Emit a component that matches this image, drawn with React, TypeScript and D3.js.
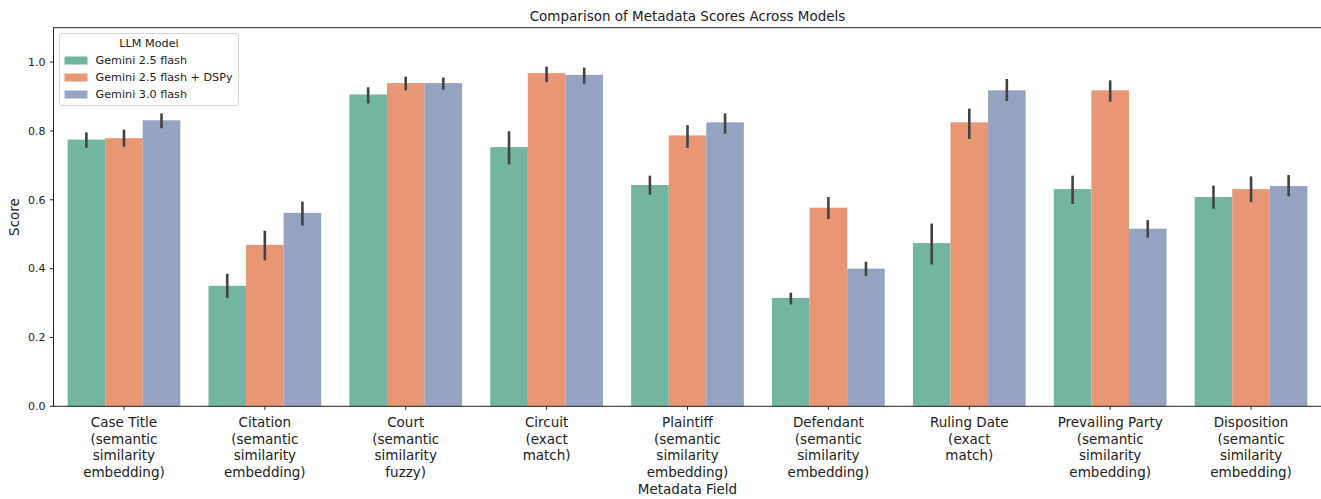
import React from "react";
import * as d3 from "d3";

// Grouped bar chart with CI whiskers, seaborn-like look.

const fields = [
  ["Case Title", "(semantic", "similarity", "embedding)"],
  ["Citation", "(semantic", "similarity", "embedding)"],
  ["Court", "(semantic", "similarity", "fuzzy)"],
  ["Circuit", "(exact", "match)"],
  ["Plaintiff", "(semantic", "similarity", "embedding)"],
  ["Defendant", "(semantic", "similarity", "embedding)"],
  ["Ruling Date", "(exact", "match)"],
  ["Prevailing Party", "(semantic", "similarity", "embedding)"],
  ["Disposition", "(semantic", "similarity", "embedding)"],
];

const models = ["Gemini 2.5 flash", "Gemini 2.5 flash + DSPy", "Gemini 3.0 flash"];
const colors = ["#72b6a1", "#e99675", "#95a3c3"];

// mean score per field
const flashMean = [0.775, 0.35, 0.906, 0.753, 0.643, 0.315, 0.474, 0.631, 0.608];
const dspyMean = [0.779, 0.469, 0.939, 0.968, 0.787, 0.577, 0.825, 0.918, 0.631];
const flash3Mean = [0.831, 0.562, 0.939, 0.963, 0.825, 0.4, 0.918, 0.516, 0.64];

// confidence interval bounds
const flashLo = [0.751, 0.315, 0.88, 0.703, 0.615, 0.296, 0.412, 0.588, 0.574];
const flashHi = [0.796, 0.385, 0.927, 0.799, 0.67, 0.33, 0.531, 0.67, 0.641];
const dspyLo = [0.754, 0.424, 0.918, 0.942, 0.751, 0.544, 0.777, 0.885, 0.593];
const dspyHi = [0.804, 0.51, 0.958, 0.987, 0.817, 0.608, 0.865, 0.947, 0.668];
const flash3Lo = [0.808, 0.525, 0.92, 0.937, 0.792, 0.379, 0.887, 0.49, 0.61];
const flash3Hi = [0.851, 0.595, 0.955, 0.984, 0.851, 0.42, 0.951, 0.541, 0.672];

const yTicks = [0, 0.2, 0.4, 0.6, 0.8, 1.0];

const means = [flashMean, dspyMean, flash3Mean];
const los = [flashLo, dspyLo, flash3Lo];
const his = [flashHi, dspyHi, flash3Hi];

const W = 1321;
const H = 499;
const FONT = "DejaVu Sans, sans-serif";

export default function App() {
  const left = 53.5;
  const right = 1321.5;
  const top = 27.7;
  const bottom = 406.3;

  const x = d3.scaleBand<number>().domain(d3.range(fields.length)).range([left, right]).paddingInner(0).paddingOuter(0);
  const inner = d3.scaleBand<number>().domain(d3.range(models.length)).range([0, x.bandwidth() * 0.8]);
  const y = d3.scaleLinear().domain([0, 1.1]).range([bottom, top]);
  const off = x.bandwidth() * 0.1;

  return (
    <svg width={W} height={H} style={{ position: "absolute", left: 0, top: 0, background: "#fff" }} fontFamily={FONT}>
      <text x={(left + right) / 2} y={20.5} textAnchor="middle" fontSize={13.5} fill="#222">
        Comparison of Metadata Scores Across Models
      </text>

      {/* bars */}
      {fields.map((_, i) =>
        models.map((m, k) => (
          <rect
            key={`${i}-${k}`}
            x={(x(i) ?? 0) + off + (inner(k) ?? 0)}
            y={y(means[k][i])}
            width={inner.bandwidth()}
            height={bottom - y(means[k][i])}
            fill={colors[k]}
          />
        ))
      )}

      {/* error bars */}
      {fields.map((_, i) =>
        models.map((m, k) => {
          const cx = (x(i) ?? 0) + off + (inner(k) ?? 0) + inner.bandwidth() / 2;
          return (
            <line key={`e${i}-${k}`} x1={cx} x2={cx} y1={y(los[k][i])} y2={y(his[k][i])} stroke="#424242" strokeWidth={2.6} />
          );
        })
      )}

      {/* frame */}
      <rect x={left} y={top} width={right - left} height={bottom - top} fill="none" stroke="#222" strokeWidth={1} />

      {/* y axis */}
      {yTicks.map((t) => (
        <g key={t} transform={`translate(${left},${y(t)})`}>
          <line x1={-3.5} x2={0} stroke="#222" />
          <text x={-8} dy="0.35em" textAnchor="end" fontSize={11} fill="#222">
            {t.toFixed(1)}
          </text>
        </g>
      ))}
      <text transform={`translate(19,${(top + bottom) / 2}) rotate(-90)`} textAnchor="middle" fontSize={13.5} fill="#222">
        Score
      </text>

      {/* x axis */}
      {fields.map((lines, i) => {
        const cx = (x(i) ?? 0) + x.bandwidth() / 2;
        return (
          <g key={`x${i}`} transform={`translate(${cx},${bottom})`}>
            <line y1={0} y2={3.5} stroke="#222" />
            {lines.map((s, j) => (
              <text key={j} y={20.5 + j * 16.8} textAnchor="middle" fontSize={13.5} fill="#222">
                {s}
              </text>
            ))}
          </g>
        );
      })}
      <text x={(left + right) / 2} y={494} textAnchor="middle" fontSize={13.5} fill="#222">
        Metadata Field
      </text>

      {/* legend */}
      <g transform="translate(59.5,33.5)">
        <rect width={179} height={72} rx={2.5} fill="#fff" fillOpacity={0.8} stroke="#d6d6d6" />
        <text x={89.5} y={13.5} textAnchor="middle" fontSize={11.2} fill="#222">
          LLM Model
        </text>
        {models.map((m, k) => (
          <g key={m} transform={`translate(0,${27 + k * 17})`}>
            <rect x={5} y={-4} width={23} height={8} fill={colors[k]} />
            <text x={36} dy="0.35em" fontSize={11.2} fill="#222">
              {m}
            </text>
          </g>
        ))}
      </g>
    </svg>
  );
}
